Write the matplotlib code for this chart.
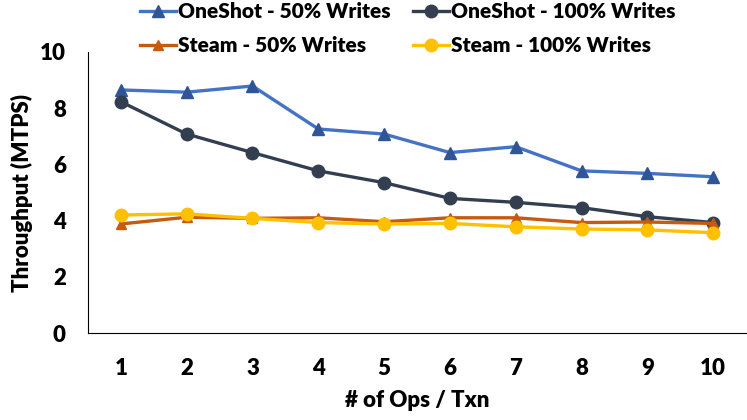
import matplotlib
matplotlib.use("Agg")
import matplotlib.pyplot as plt

plt.rcParams['font.family'] = ['Lato', 'DejaVu Sans']
plt.rcParams['font.weight'] = 'heavy'

# Données
ops = [1, 2, 3, 4, 5, 6, 7, 8, 9, 10]
oneshot_50 = [8.65, 8.57, 8.79, 7.26, 7.08, 6.42, 6.63, 5.77, 5.68, 5.56]
oneshot_100 = [8.23, 7.08, 6.42, 5.77, 5.35, 4.79, 4.65, 4.46, 4.14, 3.93]
steam_50 = [3.88, 4.12, 4.08, 4.10, 3.96, 4.10, 4.10, 3.93, 3.95, 3.90]
steam_100 = [4.20, 4.24, 4.08, 3.93, 3.88, 3.90, 3.78, 3.70, 3.67, 3.57]

fig = plt.figure(figsize=(7.47, 4.2), dpi=100)
ax = fig.add_axes([88/747, 87/420, 658/747, 281/420])

l1, = ax.plot(ops, oneshot_50, color='#4472C4', lw=2.4, marker='^', ms=9,
              mfc='#2F5597', mec='#2F5597', label='OneShot - 50% Writes')
l2, = ax.plot(ops, oneshot_100, color='#333F50', lw=2.4, marker='o', ms=9,
              label='OneShot - 100% Writes')
l3, = ax.plot(ops, steam_50, color='#C55A11', lw=2.4, marker='^', ms=7,
              label='Steam - 50% Writes')
l4, = ax.plot(ops, steam_100, color='#FFC000', lw=2.4, marker='o', ms=9,
              label='Steam - 100% Writes')

ax.set_xlim(0.5, 10.5)
ax.set_ylim(0, 10)
ax.set_xticks(ops)
ax.set_yticks([0, 2, 4, 6, 8, 10])
ax.tick_params(length=0, labelsize=16)
ax.tick_params(axis='x', pad=18)
ax.tick_params(axis='y', pad=16)
for s in ['top', 'right']:
    ax.spines[s].set_visible(False)
ax.spines['left'].set_color('#000000')
ax.spines['bottom'].set_color('#000000')

ax.set_xlabel('# of Ops / Txn', fontsize=16, fontweight='heavy', labelpad=8)
ax.set_ylabel('Throughput (MTPS)', fontsize=16, fontweight='heavy', labelpad=5)

fig.legend(handles=[l1, l3, l2, l4], ncol=2, loc='upper left',
           bbox_to_anchor=(132/747, 1.014), frameon=False, fontsize=15,
           handlelength=1.7, handletextpad=0.1, columnspacing=1.1,
           labelspacing=0.7, borderaxespad=0)

fig.savefig('out.png', dpi=100)
